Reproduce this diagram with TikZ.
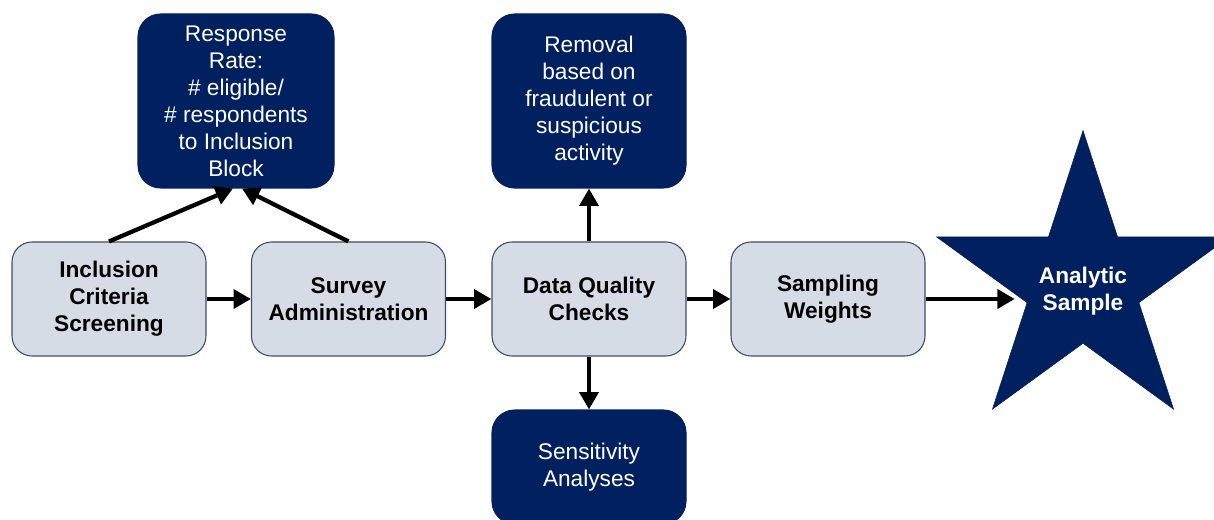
\documentclass[tikz,border=0pt]{standalone}
\usepackage{fontspec}
\setmainfont{Liberation Sans}
\usetikzlibrary{shapes.geometric,arrows.meta}
\definecolor{navy}{HTML}{002060}
\definecolor{paleblue}{HTML}{D6DCE5}
\definecolor{edgeblue}{HTML}{3E4C6A}
\begin{document}
\begin{tikzpicture}[x=0.75pt,y=-0.75pt,
  boxfont/.style={font=\fontsize{17}{20.25}\selectfont},
  lightbox/.style={boxfont, draw=edgeblue, line width=0.8pt, fill=paleblue,
    rounded corners=15pt, minimum width=145.5pt, minimum height=85.5pt,
    align=center, inner sep=0pt, font=\fontsize{17}{20.25}\selectfont\bfseries},
  darkbox/.style={boxfont, draw=navy, fill=navy, text=white, line width=0.8pt,
    rounded corners=17pt, minimum width=145.5pt, minimum height=130.5pt,
    align=center, inner sep=0pt},
  arr/.style={line width=3.2pt, -{Triangle[length=13pt,width=14pt]}}]
  \useasboundingbox (0,0) rectangle (1214,520);

  % main process chain
  \node[lightbox] (inc) at (109,299) {Inclusion\\Criteria\\Screening};
  \node[lightbox] (sur) at (348.5,299) {Survey\\Administration};
  \node[lightbox] (dqc) at (589,299) {Data Quality\\Checks};
  \node[lightbox] (sw)  at (828,299) {Sampling\\Weights};

  % outcome boxes
  \node[darkbox, minimum width=147pt] (resp) at (236,101)
    {Response\\Rate:\\\# eligible/\\\# respondents\\to Inclusion\\Block};
  \node[darkbox] (rem) at (589,101)
    {Removal\\based on\\fraudulent or\\suspicious\\activity};
  \node[darkbox, minimum height=85.5pt] (sens) at (589,467)
    {Sensitivity\\Analyses};

  % final sample
  \node[star, star points=5, star point ratio=2.62, minimum size=231pt,
    inner sep=0pt, fill=navy, draw=navy] (star) at (1083,284.5) {};
  \node[boxfont, font=\fontsize{17}{20.25}\selectfont\bfseries, text=white,
    align=center] (startext) at ([yshift=-5pt]star.center) {Analytic\\Sample};

  % connectors
  \draw[arr] (inc.east) -- (sur.west);
  \draw[arr] (sur.east) -- (dqc.west);
  \draw[arr] (dqc.east) -- (sw.west);
  \draw[arr, shorten >=9pt] (sw.east) -- (sw.east -| star.inner point 2);
  \draw[arr] (dqc.north) -- (rem.south);
  \draw[arr] (dqc.south) -- (sens.north);
  \draw[arr] (inc.north) -- ([xshift=-2.25pt]resp.south);
  \draw[arr] (sur.north) -- ([xshift=4.5pt]resp.south);
\end{tikzpicture}
\end{document}
